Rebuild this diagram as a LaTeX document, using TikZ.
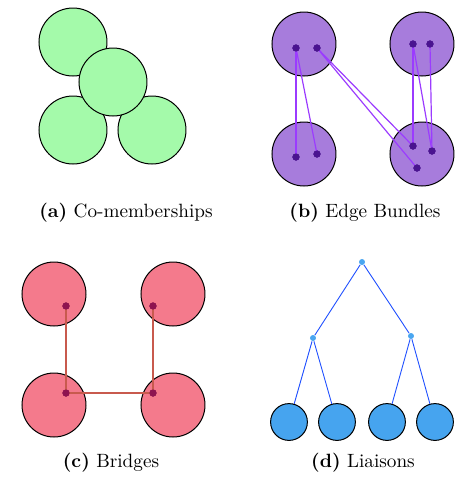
\documentclass[tikz,border=0pt]{standalone}
\begin{document}
\begin{tikzpicture}[x=0.5pt,y=-0.5pt,
  grp/.style={circle,draw=black,line width=0.5pt,inner sep=0pt},
  greengrp/.style={grp,fill=gfill,minimum size=34pt},
  purplegrp/.style={grp,fill=pfill,minimum size=32pt},
  redgrp/.style={grp,fill=rfill,minimum size=32pt},
  bluegrp/.style={grp,fill=bfill,minimum size=18.4pt},
  pdot/.style={circle,fill=pdotc,inner sep=0pt,minimum size=3.6pt},
  rdot/.style={circle,fill=rdotc,inner sep=0pt,minimum size=3.6pt},
  bdot/.style={circle,fill=bdotc,inner sep=0pt,minimum size=3pt},
  pedge/.style={draw=pedgec,line width=0.6pt},
  redge/.style={draw=redgec,line width=0.6pt},
  bedge/.style={draw=bedgec,line width=0.45pt},
  captxt/.style={font=\fontsize{9.6}{11}\selectfont,inner sep=0pt}
]
\definecolor{gfill}{HTML}{A4FAAA}
\definecolor{pfill}{HTML}{A77CDC}
\definecolor{pdotc}{HTML}{4A1490}
\definecolor{pedgec}{HTML}{9B3BFF}
\definecolor{rfill}{HTML}{F47A8C}
\definecolor{rdotc}{HTML}{8E1450}
\definecolor{redgec}{HTML}{C85A4E}
\definecolor{bfill}{HTML}{46A4EF}
\definecolor{bdotc}{HTML}{4AA6F0}
\definecolor{bedgec}{HTML}{2050FF}
\useasboundingbox (0,0) rectangle (455,479);
% (a)
\node[greengrp] (a1) at (73,42) {};
\node[greengrp] (a3) at (73,130) {};
\node[greengrp] (a4) at (152,130) {};
\node[greengrp] (a2) at (113,82) {};
\node[captxt] (capa) at (126,213) {\textbf{(a)} Co-memberships};
% (b)
\node[purplegrp] (b1) at (304,44) {};
\node[purplegrp] (b2) at (422,44) {};
\node[purplegrp] (b3) at (304,154) {};
\node[purplegrp] (b4) at (422,154) {};
\node[pdot] (b1a) at (296,48) {};
\node[pdot] (b1b) at (317,48) {};
\node[pdot] (b2a) at (413,44) {};
\node[pdot] (b2b) at (430,44) {};
\node[pdot] (b3a) at (296,157) {};
\node[pdot] (b3b) at (317,154) {};
\node[pdot] (b4a) at (413,146) {};
\node[pdot] (b4b) at (432,151) {};
\node[pdot] (b4c) at (417,168) {};
\draw[pedge] (b1a.center) -- (b3a.center);
\draw[pedge] (b1a.center) -- (b3b.center);
\draw[pedge] (b1b.center) -- (b4a.center);
\draw[pedge] (b1b.center) -- (b4c.center);
\draw[pedge] (b2a.center) -- (b4a.center);
\draw[pedge] (b2a.center) -- (b4b.center);
\draw[pedge] (b2b.center) -- (b4b.center);
\node[pdot] at (b1a) {};\node[pdot] at (b1b) {};
\node[pdot] at (b2a) {};\node[pdot] at (b2b) {};
\node[pdot] at (b3a) {};\node[pdot] at (b3b) {};
\node[pdot] at (b4a) {};\node[pdot] at (b4b) {};\node[pdot] at (b4c) {};
\node[captxt] (capb) at (365,213) {\textbf{(b)} Edge Bundles};
% (c)
\node[redgrp] (c1) at (54,294) {};
\node[redgrp] (c2) at (173,294) {};
\node[redgrp] (c3) at (54,405) {};
\node[redgrp] (c4) at (173,405) {};
\node[rdot] (c1d) at (66,306) {};
\node[rdot] (c2d) at (153,306) {};
\node[rdot] (c3d) at (66,393) {};
\node[rdot] (c4d) at (153,393) {};
\draw[redge] (c1d.center) -- (c3d.center);
\draw[redge] (c2d.center) -- (c4d.center);
\draw[redge] (c3d.center) -- (c4d.center);
\node[rdot] at (c1d) {};\node[rdot] at (c2d) {};
\node[rdot] at (c3d) {};\node[rdot] at (c4d) {};
\node[captxt] (capc) at (111,463) {\textbf{(c)} Bridges};
% (d)
\node[bdot] (dt) at (362,262) {};
\node[bdot] (dl) at (313,338) {};
\node[bdot] (dr) at (411,336) {};
\node[bluegrp] (d1) at (289,422) {};
\node[bluegrp] (d2) at (337,422) {};
\node[bluegrp] (d3) at (387,422) {};
\node[bluegrp] (d4) at (435,422) {};
\draw[bedge] (dt) -- (dl);
\draw[bedge] (dt) -- (dr);
\draw[bedge] (dl) -- (d1);
\draw[bedge] (dl) -- (d2);
\draw[bedge] (dr) -- (d3);
\draw[bedge] (dr) -- (d4);
\node[captxt] (capd) at (363,463) {\textbf{(d)} Liaisons};
\end{tikzpicture}
\end{document}
